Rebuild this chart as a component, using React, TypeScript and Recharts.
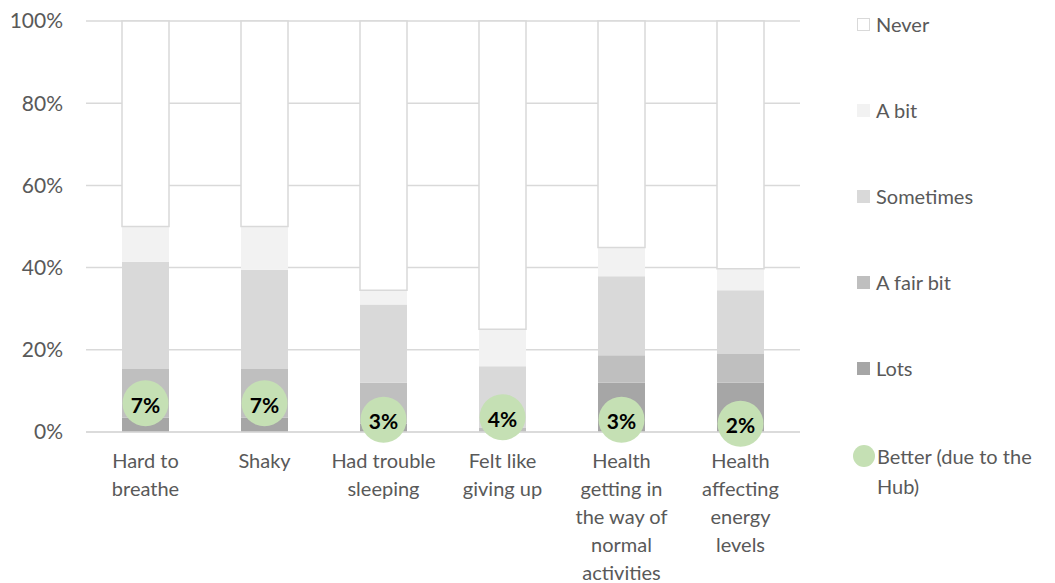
import React from "react"
import { ComposedChart, Bar, Line, XAxis, YAxis, CartesianGrid, LabelList } from "recharts"

// category labels, already split into lines the way the original wraps them
const categoryLines = [
  ["Hard to", "breathe"],
  ["Shaky"],
  ["Had trouble", "sleeping"],
  ["Felt like", "giving up"],
  ["Health", "getting in", "the way of", "normal", "activities"],
  ["Health", "affecting", "energy", "levels"],
]

// % of answers per category, bottom to top of the stack
const lots = [3.5, 3.5, 2, 0, 12, 12]
const fairBit = [11.8, 11.8, 10, 1, 6.7, 7]
const sometimes = [26.1, 24.2, 19, 15, 19.2, 15.5]
const aBit = [8.6, 10.5, 3.5, 9, 7, 5.2]
const never = [50, 50, 65.5, 75, 55.1, 60.3]

// "Better (due to the Hub)" share
const better = [7, 7, 3, 3.6, 3, 2]

const yTicks = [0, 20, 40, 60, 80, 100]

const data = categoryLines.map((lines, i) => ({
  name: lines.join(" "),
  lots: lots[i],
  fairBit: fairBit[i],
  sometimes: sometimes[i],
  aBit: aBit[i],
  never: never[i],
  better: better[i],
}))

const FONT = "Lato, 'Open Sans', sans-serif"
const TEXT = "#595959"
const BAR = 47

const legendItems = [
  { label: "Never", color: "#ffffff", border: "#d9d9d9", top: 24 },
  { label: "A bit", color: "#f2f2f2", top: 110 },
  { label: "Sometimes", color: "#d9d9d9", top: 196 },
  { label: "A fair bit", color: "#bfbfbf", top: 282 },
  { label: "Lots", color: "#a6a6a6", top: 368 },
]

function CategoryTick(props: any) {
  const { x, y, payload } = props
  const lines = categoryLines[payload.index] || [payload.value]
  return (
    <text x={x} y={y} textAnchor="middle" fill={TEXT} fontSize={20} fontFamily={FONT}>
      {lines.map((l: string, i: number) => (
        <tspan key={i} x={x} dy={i === 0 ? 28 : 28}>
          {l}
        </tspan>
      ))}
    </text>
  )
}

function BetterDot(props: any) {
  const { cx, cy } = props
  if (cx == null || cy == null) return null
  return <circle cx={cx} cy={cy} r={23} fill="#c5e0b4" />
}

function BetterLabel(props: any) {
  const { x, y, value } = props
  return (
    <text
      x={x}
      y={y + 1}
      textAnchor="middle"
      dominantBaseline="central"
      fontSize={21}
      fontWeight="bold"
      fontFamily={FONT}
      fill="#000"
    >
      {Math.round(value)}%
    </text>
  )
}

export default function App() {
  return (
    <div style={{ position: "absolute", left: 0, top: 0, width: 1055, height: 583, background: "#fff" }}>
      <ComposedChart
        width={1055}
        height={583}
        data={data}
        margin={{ top: 21, right: 255, left: 0, bottom: 121 }}
      >
        <CartesianGrid vertical={false} stroke="#d9d9d9" strokeWidth={1.5} />
        <XAxis
          dataKey="name"
          height={30}
          interval={0}
          tickLine={false}
          axisLine={{ stroke: "#d9d9d9", strokeWidth: 1.5 }}
          tick={<CategoryTick />}
        />
        <YAxis
          width={86}
          domain={[0, 100]}
          ticks={yTicks}
          tickFormatter={(v) => `${v}%`}
          tickLine={false}
          axisLine={false}
          tickSize={0}
          tickMargin={23}
          tick={{ fill: TEXT, fontSize: 21, fontFamily: FONT }}
        />
        <Bar dataKey="lots" stackId="a" barSize={BAR} fill="#a6a6a6" isAnimationActive={false} />
        <Bar dataKey="fairBit" stackId="a" barSize={BAR} fill="#bfbfbf" isAnimationActive={false} />
        <Bar dataKey="sometimes" stackId="a" barSize={BAR} fill="#d9d9d9" isAnimationActive={false} />
        <Bar dataKey="aBit" stackId="a" barSize={BAR} fill="#f2f2f2" isAnimationActive={false} />
        <Bar
          dataKey="never"
          stackId="a"
          barSize={BAR}
          fill="#ffffff"
          stroke="#d9d9d9"
          strokeWidth={1.5}
          isAnimationActive={false}
        />
        <Line
          dataKey="better"
          stroke="none"
          dot={<BetterDot />}
          activeDot={false}
          isAnimationActive={false}
        >
          <LabelList dataKey="better" content={<BetterLabel />} />
        </Line>
      </ComposedChart>

      {legendItems.map((it) => (
        <div
          key={it.label}
          style={{
            position: "absolute",
            left: 857,
            top: it.top - 14,
            height: 28,
            display: "flex",
            alignItems: "center",
            fontFamily: FONT,
            fontSize: 20,
            color: TEXT,
          }}
        >
          <span
            style={{
              display: "inline-block",
              width: 13,
              height: 13,
              background: it.color,
              border: it.border ? `1px solid ${it.border}` : "none",
              boxSizing: "border-box",
              marginRight: 6,
            }}
          />
          {it.label}
        </div>
      ))}
      <div
        style={{
          position: "absolute",
          left: 853,
          top: 441,
          width: 200,
          display: "flex",
          alignItems: "flex-start",
          fontFamily: FONT,
          fontSize: 20,
          lineHeight: "30px",
          color: TEXT,
        }}
      >
        <span
          style={{
            display: "inline-block",
            width: 22,
            height: 22,
            borderRadius: "50%",
            background: "#c5e0b4",
            marginTop: 4,
            marginRight: 2,
            flexShrink: 0,
          }}
        />
        <span>Better (due to the Hub)</span>
      </div>
    </div>
  )
}
